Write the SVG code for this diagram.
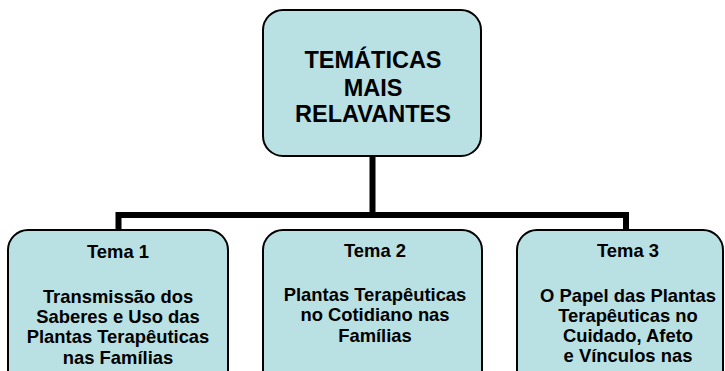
<svg xmlns="http://www.w3.org/2000/svg" width="725" height="371" viewBox="0 0 725 371">
<style>
.box{fill:#B9E0E3;stroke:#000;stroke-width:2}
.t{font-family:"Liberation Sans",Arial,sans-serif;font-weight:bold;fill:#000;text-anchor:middle}
.big{font-size:23.5px}
.sm{font-size:18.4px}
.conn{fill:none;stroke:#000;stroke-width:6;stroke-linejoin:miter}
</style>
<rect width="725" height="371" fill="#fff"/>
<g id="connectors">
<path class="conn" d="M372.5 156 V215"/>
<path class="conn" d="M118.5 231 V215 H626 V231"/>
</g>
<g id="root">
<rect class="box" x="263" y="10" width="218" height="146" rx="20" ry="20"/>
<text class="t big" x="373" y="68">TEMÁTICAS</text>
<text class="t big" x="373" y="96">MAIS</text>
<text class="t big" x="373" y="122">RELAVANTES</text>
</g>
<g id="tema1">
<rect class="box" x="8" y="230" width="220" height="160" rx="20" ry="20"/>
<text class="t sm" x="118" y="258">Tema 1</text>
<text class="t sm" x="118" y="303">Transmissão dos</text>
<text class="t sm" x="118" y="323">Saberes e Uso das</text>
<text class="t sm" x="118" y="343">Plantas Terapêuticas</text>
<text class="t sm" x="118" y="364">nas Famílias</text>
</g>
<g id="tema2">
<rect class="box" x="263" y="230" width="219" height="160" rx="20" ry="20"/>
<text class="t sm" x="375" y="257">Tema 2</text>
<text class="t sm" x="375" y="301">Plantas Terapêuticas</text>
<text class="t sm" x="375" y="321">no Cotidiano nas</text>
<text class="t sm" x="375" y="342">Famílias</text>
</g>
<g id="tema3">
<rect class="box" x="517" y="230" width="206" height="160" rx="20" ry="20"/>
<text class="t sm" x="628" y="257">Tema 3</text>
<text class="t sm" x="628" y="302">O Papel das Plantas</text>
<text class="t sm" x="628" y="322">Terapêuticas no</text>
<text class="t sm" x="628" y="342">Cuidado, Afeto</text>
<text class="t sm" x="628" y="362">e Vínculos nas</text>
</g>
</svg>
